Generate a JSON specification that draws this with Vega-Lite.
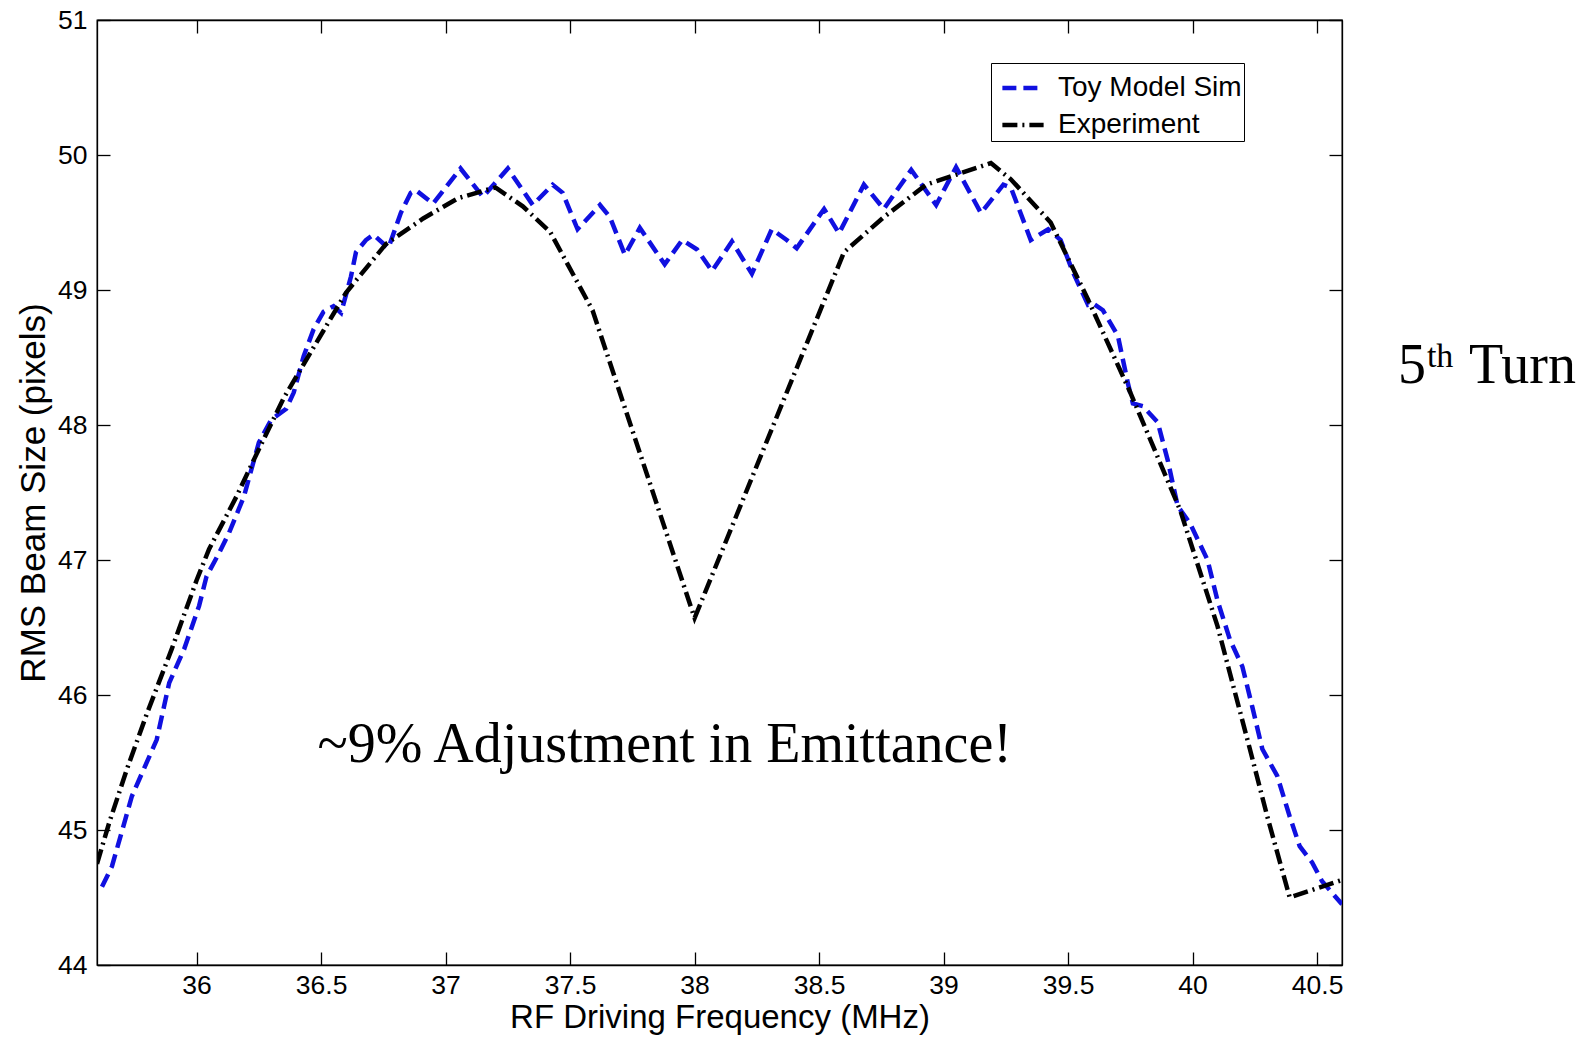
{
  "$schema": "https://vega.github.io/schema/vega-lite/v6.json",
  "width": 1245,
  "height": 945,
  "autosize": "none",
  "padding": {"left": 97, "top": 20, "right": 247, "bottom": 72},
  "background": "white",
  "config": {
    "view": {"stroke": "black", "strokeWidth": 1.3},
    "font": "Liberation Sans"
  },
  "datasets": {
    "curves": [
      {"series": "Toy Model Sim", "f": 35.62, "v": 44.58},
      {"series": "Toy Model Sim", "f": 35.66, "v": 44.73},
      {"series": "Toy Model Sim", "f": 35.74, "v": 45.25},
      {"series": "Toy Model Sim", "f": 35.84, "v": 45.67},
      {"series": "Toy Model Sim", "f": 35.89, "v": 46.09},
      {"series": "Toy Model Sim", "f": 35.95, "v": 46.34},
      {"series": "Toy Model Sim", "f": 36.01, "v": 46.66},
      {"series": "Toy Model Sim", "f": 36.04, "v": 46.88},
      {"series": "Toy Model Sim", "f": 36.09, "v": 47.05},
      {"series": "Toy Model Sim", "f": 36.13, "v": 47.2},
      {"series": "Toy Model Sim", "f": 36.19, "v": 47.47},
      {"series": "Toy Model Sim", "f": 36.25, "v": 47.87},
      {"series": "Toy Model Sim", "f": 36.3, "v": 48.04},
      {"series": "Toy Model Sim", "f": 36.36, "v": 48.12},
      {"series": "Toy Model Sim", "f": 36.39, "v": 48.24},
      {"series": "Toy Model Sim", "f": 36.43, "v": 48.51},
      {"series": "Toy Model Sim", "f": 36.47, "v": 48.71},
      {"series": "Toy Model Sim", "f": 36.51, "v": 48.84},
      {"series": "Toy Model Sim", "f": 36.55, "v": 48.88},
      {"series": "Toy Model Sim", "f": 36.58, "v": 48.83},
      {"series": "Toy Model Sim", "f": 36.62, "v": 49.1},
      {"series": "Toy Model Sim", "f": 36.64, "v": 49.28},
      {"series": "Toy Model Sim", "f": 36.68, "v": 49.37},
      {"series": "Toy Model Sim", "f": 36.71, "v": 49.41},
      {"series": "Toy Model Sim", "f": 36.77, "v": 49.31},
      {"series": "Toy Model Sim", "f": 36.82, "v": 49.57},
      {"series": "Toy Model Sim", "f": 36.86, "v": 49.72},
      {"series": "Toy Model Sim", "f": 36.88, "v": 49.74},
      {"series": "Toy Model Sim", "f": 36.95, "v": 49.64},
      {"series": "Toy Model Sim", "f": 37.06, "v": 49.9},
      {"series": "Toy Model Sim", "f": 37.15, "v": 49.69},
      {"series": "Toy Model Sim", "f": 37.25, "v": 49.9},
      {"series": "Toy Model Sim", "f": 37.35, "v": 49.63},
      {"series": "Toy Model Sim", "f": 37.43, "v": 49.78},
      {"series": "Toy Model Sim", "f": 37.47, "v": 49.72},
      {"series": "Toy Model Sim", "f": 37.53, "v": 49.45},
      {"series": "Toy Model Sim", "f": 37.62, "v": 49.63},
      {"series": "Toy Model Sim", "f": 37.66, "v": 49.54},
      {"series": "Toy Model Sim", "f": 37.72, "v": 49.26},
      {"series": "Toy Model Sim", "f": 37.78, "v": 49.46},
      {"series": "Toy Model Sim", "f": 37.88, "v": 49.19},
      {"series": "Toy Model Sim", "f": 37.95, "v": 49.37},
      {"series": "Toy Model Sim", "f": 38.01, "v": 49.3},
      {"series": "Toy Model Sim", "f": 38.07, "v": 49.14},
      {"series": "Toy Model Sim", "f": 38.15, "v": 49.36},
      {"series": "Toy Model Sim", "f": 38.23, "v": 49.12},
      {"series": "Toy Model Sim", "f": 38.31, "v": 49.45},
      {"series": "Toy Model Sim", "f": 38.37, "v": 49.37},
      {"series": "Toy Model Sim", "f": 38.41, "v": 49.31},
      {"series": "Toy Model Sim", "f": 38.52, "v": 49.6},
      {"series": "Toy Model Sim", "f": 38.58, "v": 49.42},
      {"series": "Toy Model Sim", "f": 38.68, "v": 49.78},
      {"series": "Toy Model Sim", "f": 38.76, "v": 49.6},
      {"series": "Toy Model Sim", "f": 38.87, "v": 49.89},
      {"series": "Toy Model Sim", "f": 38.97, "v": 49.63},
      {"series": "Toy Model Sim", "f": 39.05, "v": 49.91},
      {"series": "Toy Model Sim", "f": 39.15, "v": 49.57},
      {"series": "Toy Model Sim", "f": 39.24, "v": 49.78},
      {"series": "Toy Model Sim", "f": 39.27, "v": 49.76},
      {"series": "Toy Model Sim", "f": 39.35, "v": 49.37},
      {"series": "Toy Model Sim", "f": 39.42, "v": 49.45},
      {"series": "Toy Model Sim", "f": 39.47, "v": 49.37},
      {"series": "Toy Model Sim", "f": 39.52, "v": 49.13},
      {"series": "Toy Model Sim", "f": 39.58, "v": 48.89},
      {"series": "Toy Model Sim", "f": 39.6, "v": 48.9},
      {"series": "Toy Model Sim", "f": 39.64, "v": 48.85},
      {"series": "Toy Model Sim", "f": 39.7, "v": 48.66},
      {"series": "Toy Model Sim", "f": 39.74, "v": 48.31},
      {"series": "Toy Model Sim", "f": 39.76, "v": 48.16},
      {"series": "Toy Model Sim", "f": 39.8, "v": 48.14},
      {"series": "Toy Model Sim", "f": 39.86, "v": 48.02},
      {"series": "Toy Model Sim", "f": 39.9, "v": 47.74},
      {"series": "Toy Model Sim", "f": 39.94, "v": 47.4},
      {"series": "Toy Model Sim", "f": 39.99, "v": 47.27},
      {"series": "Toy Model Sim", "f": 40.06, "v": 47.0},
      {"series": "Toy Model Sim", "f": 40.1, "v": 46.7},
      {"series": "Toy Model Sim", "f": 40.15, "v": 46.41},
      {"series": "Toy Model Sim", "f": 40.2, "v": 46.21},
      {"series": "Toy Model Sim", "f": 40.24, "v": 45.91},
      {"series": "Toy Model Sim", "f": 40.28, "v": 45.6},
      {"series": "Toy Model Sim", "f": 40.34, "v": 45.4},
      {"series": "Toy Model Sim", "f": 40.39, "v": 45.1},
      {"series": "Toy Model Sim", "f": 40.43, "v": 44.88},
      {"series": "Toy Model Sim", "f": 40.48, "v": 44.76},
      {"series": "Toy Model Sim", "f": 40.52, "v": 44.62},
      {"series": "Toy Model Sim", "f": 40.6, "v": 44.45},
      {"series": "Experiment", "f": 35.6, "v": 44.75},
      {"series": "Experiment", "f": 35.65, "v": 45.06},
      {"series": "Experiment", "f": 35.72, "v": 45.45},
      {"series": "Experiment", "f": 35.8, "v": 45.86},
      {"series": "Experiment", "f": 35.9, "v": 46.34},
      {"series": "Experiment", "f": 36.0, "v": 46.85},
      {"series": "Experiment", "f": 36.05, "v": 47.08},
      {"series": "Experiment", "f": 36.16, "v": 47.47},
      {"series": "Experiment", "f": 36.25, "v": 47.82},
      {"series": "Experiment", "f": 36.35, "v": 48.2},
      {"series": "Experiment", "f": 36.51, "v": 48.7},
      {"series": "Experiment", "f": 36.6, "v": 48.98},
      {"series": "Experiment", "f": 36.76, "v": 49.34},
      {"series": "Experiment", "f": 36.91, "v": 49.53},
      {"series": "Experiment", "f": 37.05, "v": 49.68},
      {"series": "Experiment", "f": 37.2, "v": 49.76},
      {"series": "Experiment", "f": 37.31, "v": 49.62},
      {"series": "Experiment", "f": 37.42, "v": 49.43},
      {"series": "Experiment", "f": 37.59, "v": 48.85},
      {"series": "Experiment", "f": 38.0, "v": 46.57},
      {"series": "Experiment", "f": 38.6, "v": 49.28},
      {"series": "Experiment", "f": 38.76, "v": 49.54},
      {"series": "Experiment", "f": 38.93, "v": 49.78},
      {"series": "Experiment", "f": 39.19, "v": 49.94},
      {"series": "Experiment", "f": 39.27, "v": 49.82},
      {"series": "Experiment", "f": 39.43, "v": 49.5},
      {"series": "Experiment", "f": 39.58, "v": 48.93},
      {"series": "Experiment", "f": 39.75, "v": 48.24},
      {"series": "Experiment", "f": 39.95, "v": 47.37},
      {"series": "Experiment", "f": 40.1, "v": 46.51},
      {"series": "Experiment", "f": 40.23, "v": 45.6},
      {"series": "Experiment", "f": 40.3, "v": 45.1},
      {"series": "Experiment", "f": 40.39, "v": 44.5},
      {"series": "Experiment", "f": 40.6, "v": 44.63}
    ]
  },
  "layer": [
    {
      "data": {"name": "curves"},
      "mark": {"type": "line", "strokeWidth": 4.5, "strokeCap": "butt", "clip": true},
      "encoding": {
        "x": {
          "field": "f", "type": "quantitative",
          "scale": {"domain": [35.6, 40.6], "nice": false, "zero": false},
          "axis": {
            "orient": "bottom",
            "values": [36, 36.5, 37, 37.5, 38, 38.5, 39, 39.5, 40, 40.5],
            "format": "~g",
            "grid": false,
            "labelFontSize": 26.5, "labelColor": "black", "labelFont": "Liberation Sans",
            "labelPadding": 20, "labelFlush": false,
            "tickSize": -13, "tickColor": "black", "tickWidth": 1.3,
            "domainColor": "black", "domainWidth": 1.3,
            "title": "RF Driving Frequency (MHz)",
            "titleFontSize": 33, "titleFontWeight": "normal", "titleColor": "black", "titleFont": "Liberation Sans",
            "titlePadding": 3
          }
        },
        "y": {
          "field": "v", "type": "quantitative",
          "scale": {"domain": [44, 51], "nice": false, "zero": false},
          "axis": {
            "orient": "left",
            "values": [44, 45, 46, 47, 48, 49, 50, 51],
            "grid": false,
            "labelFontSize": 26.5, "labelColor": "black", "labelFont": "Liberation Sans",
            "labelPadding": 23, "labelFlush": false,
            "tickSize": -13, "tickColor": "black", "tickWidth": 1.3,
            "domainColor": "black", "domainWidth": 1.3,
            "title": "RMS Beam Size (pixels)",
            "titleFontSize": 35, "titleFontWeight": "normal", "titleColor": "black", "titleFont": "Liberation Sans",
            "titlePadding": 6
          }
        },
        "color": {
          "field": "series", "type": "nominal",
          "scale": {"domain": ["Toy Model Sim", "Experiment"], "range": ["#1010e0", "#000000"]},
          "legend": {
            "orient": "none", "legendX": 894, "legendY": 43,
            "title": null,
            "strokeColor": "black", "fillColor": "white", "padding": 2,
            "labelFontSize": 28, "labelFont": "Liberation Sans", "labelColor": "black", "labelOffset": 12, "labelLimit": 400,
            "symbolType": "stroke", "symbolSize": 1700, "symbolStrokeWidth": 4.5, "symbolOffset": 7,
            "rowPadding": -4
          }
        },
        "strokeDash": {
          "field": "series", "type": "nominal",
          "scale": {"domain": ["Toy Model Sim", "Experiment"], "range": [[14, 7], [15, 5, 2, 5]]},
          "legend": {
            "orient": "none", "legendX": 894, "legendY": 43,
            "title": null,
            "strokeColor": "black", "fillColor": "white", "padding": 2,
            "labelFontSize": 28, "labelFont": "Liberation Sans", "labelColor": "black", "labelOffset": 12, "labelLimit": 400,
            "symbolType": "stroke", "symbolSize": 1700, "symbolStrokeWidth": 4.5, "symbolOffset": 7,
            "rowPadding": -4
          }
        }
      }
    },
    {
      "data": {"name": "curves"},
      "mark": {"type": "point", "opacity": 0},
      "encoding": {
        "x": {
          "field": "f", "type": "quantitative",
          "scale": {"domain": [35.6, 40.6], "nice": false, "zero": false},
          "axis": {
            "orient": "top", "values": [36, 36.5, 37, 37.5, 38, 38.5, 39, 39.5, 40, 40.5],
            "labels": false, "title": null, "grid": false,
            "tickSize": -13, "tickColor": "black", "tickWidth": 1.3,
            "domainColor": "black", "domainWidth": 1.3
          }
        },
        "y": {
          "field": "v", "type": "quantitative",
          "scale": {"domain": [44, 51], "nice": false, "zero": false},
          "axis": {
            "orient": "right", "values": [44, 45, 46, 47, 48, 49, 50, 51],
            "labels": false, "title": null, "grid": false,
            "tickSize": -13, "tickColor": "black", "tickWidth": 1.3,
            "domainColor": "black", "domainWidth": 1.3
          }
        }
      }
    },
    {
      "data": {"values": [{"f": 37.88, "v": 45.63, "t": "~9% Adjustment in Emittance!"}]},
      "mark": {"type": "text", "font": "Liberation Serif", "fontSize": 56, "align": "center", "baseline": "middle", "color": "black"},
      "encoding": {
        "x": {"field": "f", "type": "quantitative", "scale": {"domain": [35.6, 40.6], "nice": false, "zero": false}, "axis": null},
        "y": {"field": "v", "type": "quantitative", "scale": {"domain": [44, 51], "nice": false, "zero": false}, "axis": null},
        "text": {"field": "t"}
      }
    },
    {
      "data": {"values": [{"f": 40.825, "v": 48.31, "t": "5"}, {"f": 41.11, "v": 48.31, "t": "Turn"}]},
      "mark": {"type": "text", "font": "Liberation Serif", "fontSize": 56, "align": "left", "baseline": "alphabetic", "color": "black"},
      "encoding": {
        "x": {"field": "f", "type": "quantitative", "scale": {"domain": [35.6, 40.6], "nice": false, "zero": false}, "axis": null},
        "y": {"field": "v", "type": "quantitative", "scale": {"domain": [44, 51], "nice": false, "zero": false}, "axis": null},
        "text": {"field": "t"}
      }
    },
    {
      "data": {"values": [{"f": 40.941, "v": 48.43, "t": "th"}]},
      "mark": {"type": "text", "font": "Liberation Serif", "fontSize": 34, "align": "left", "baseline": "alphabetic", "color": "black"},
      "encoding": {
        "x": {"field": "f", "type": "quantitative", "scale": {"domain": [35.6, 40.6], "nice": false, "zero": false}, "axis": null},
        "y": {"field": "v", "type": "quantitative", "scale": {"domain": [44, 51], "nice": false, "zero": false}, "axis": null},
        "text": {"field": "t"}
      }
    }
  ],
  "resolve": {"axis": {"x": "independent", "y": "independent"}}
}
